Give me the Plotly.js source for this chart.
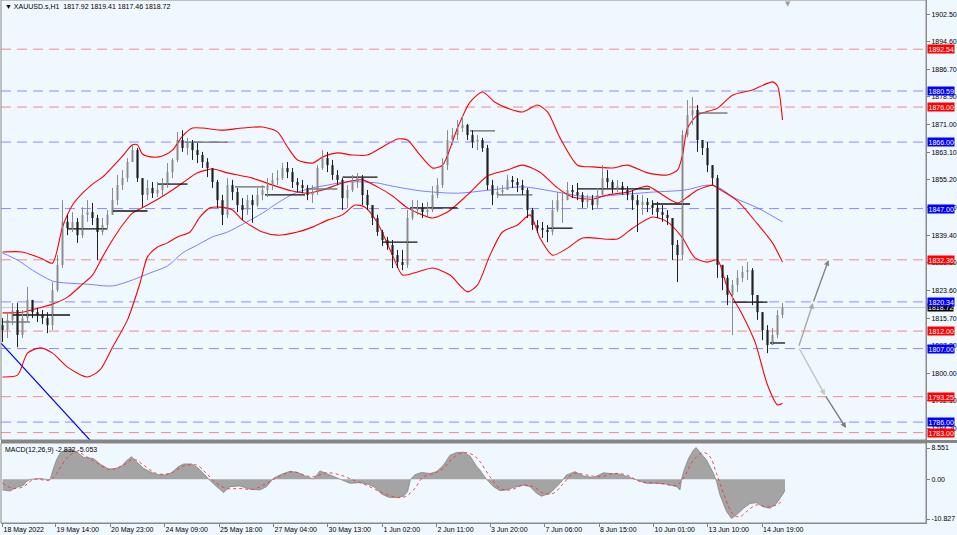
<!DOCTYPE html>
<html>
<head>
<meta charset="utf-8">
<script src="https://cdn.plot.ly/plotly-3.0.1.min.js"></script>
<style>
html,body{margin:0;padding:0;background:#f0f8ff;}
#chart{width:957px;height:535px;}
</style>
</head>
<body>
<div id="chart"></div>
<script>
// ---------------- DATA ----------------
const symbolTitle = "XAUUSD.s,H1";
const lastBarOHLC = ["1817.92", "1819.41", "1817.46", "1818.72"];
const macdTitle = "MACD(12,26,9) -2.832 -5.053";

const firstOpen = 1813.7;
const closes = [1812.3,1815.2,1818.0,1810.9,1815.7,1820.9,1817.4,1816.6,1815.7,1813.7,
 1823.7,1830.9,1843.2,1841.4,1843.2,1839.4,1845.2,1846.0,1844.3,1840.3,
 1842.3,1845.2,1849.4,1853.7,1855.7,1860.3,1863.7,1855.7,1850.9,1852.9,
 1851.4,1852.3,1853.7,1857.4,1860.9,1866.6,1864.3,1865.7,1863.7,1862.3,
 1860.3,1858.6,1854.6,1849.4,1845.2,1853.7,1851.7,1848.0,1846.6,1849.4,
 1848.0,1850.9,1852.3,1853.7,1855.2,1855.7,1858.6,1857.4,1854.6,1853.7,
 1852.9,1850.9,1851.7,1858.6,1861.4,1859.4,1856.6,1855.2,1850.0,1852.3,
 1854.6,1855.7,1850.9,1848.0,1844.3,1840.3,1838.0,1836.6,1833.7,1831.7,
 1830.9,1844.3,1846.6,1847.2,1846.0,1846.6,1850.9,1853.7,1859.4,1866.6,
 1868.0,1870.0,1870.9,1868.0,1866.0,1866.6,1864.3,1853.7,1850.9,1851.7,
 1852.3,1855.2,1854.6,1853.7,1852.3,1846.6,1842.3,1841.4,1840.9,1840.3,
 1846.6,1849.4,1849.4,1852.3,1851.7,1850.9,1848.9,1849.4,1848.0,1850.9,
 1855.7,1854.6,1852.9,1853.4,1852.3,1850.9,1849.4,1848.0,1848.9,1848.0,
 1847.2,1846.0,1845.2,1844.3,1836.6,1833.7,1868.0,1873.7,1875.2,1866.6,
 1864.3,1859.4,1855.7,1830.9,1827.2,1822.3,1825.2,1827.2,1828.9,1829.4,
 1822.3,1817.4,1812.3,1808.0,1810.9,1816.6,1818.7];
const highs = [1815.7,1817.4,1820.0,1820.0,1818.0,1824.6,1820.9,1818.6,1818.0,1817.4,
 1826.0,1833.7,1849.4,1845.2,1846.0,1844.3,1847.4,1849.4,1848.6,1845.2,
 1844.3,1846.6,1852.9,1856.6,1858.0,1861.4,1865.2,1864.3,1855.7,1855.2,
 1854.6,1854.6,1855.7,1860.0,1861.4,1868.9,1869.4,1867.2,1866.6,1865.7,
 1863.2,1861.4,1858.0,1855.2,1850.9,1855.7,1855.2,1852.9,1850.0,1850.9,
 1850.9,1852.9,1853.7,1855.7,1857.2,1858.0,1860.0,1860.3,1858.6,1855.7,
 1855.2,1853.7,1853.7,1859.4,1863.7,1863.2,1860.9,1858.0,1855.7,1853.7,
 1856.6,1857.2,1856.6,1852.3,1848.0,1845.2,1840.9,1838.9,1838.0,1835.2,
 1835.2,1846.6,1849.4,1849.4,1848.6,1848.9,1853.4,1855.7,1861.4,1869.4,
 1870.0,1872.3,1873.7,1871.2,1869.4,1868.0,1867.2,1865.2,1855.2,1853.4,
 1853.7,1856.6,1856.3,1855.7,1855.2,1852.9,1847.2,1843.7,1843.2,1842.3,
 1849.4,1851.7,1851.7,1854.6,1853.7,1854.3,1851.7,1850.9,1850.9,1852.9,
 1859.4,1858.0,1855.2,1855.2,1854.6,1853.4,1852.3,1850.9,1850.9,1850.0,
 1849.4,1848.9,1848.0,1846.6,1844.3,1838.0,1869.4,1878.0,1878.9,1876.6,
 1866.6,1866.0,1858.6,1856.6,1830.9,1828.0,1826.6,1829.4,1830.6,1831.7,
 1830.0,1822.3,1817.4,1813.7,1812.9,1818.0,1820.0];
const lows = [1808.9,1810.0,1813.7,1807.4,1810.0,1814.6,1815.7,1814.6,1814.0,1811.4,
 1812.3,1823.2,1830.0,1839.4,1840.3,1837.2,1838.6,1843.2,1842.3,1832.3,
 1839.4,1841.4,1845.2,1848.0,1852.3,1854.6,1860.3,1854.6,1847.4,1849.4,
 1850.0,1850.3,1850.6,1852.9,1855.7,1860.3,1863.2,1862.3,1860.9,1860.0,
 1858.6,1856.0,1852.9,1847.2,1842.3,1844.3,1849.4,1846.0,1843.7,1845.2,
 1842.9,1847.4,1849.4,1850.3,1852.3,1853.7,1855.2,1855.7,1852.9,1851.7,
 1851.4,1849.4,1848.6,1850.9,1858.0,1857.4,1855.2,1853.7,1846.6,1847.2,
 1851.7,1852.9,1848.0,1846.6,1842.3,1839.2,1836.3,1835.2,1830.0,1830.0,
 1829.4,1830.0,1843.7,1845.2,1844.3,1844.9,1846.0,1850.0,1852.9,1858.0,
 1865.2,1866.6,1868.9,1866.6,1864.3,1863.7,1863.2,1852.3,1848.0,1850.0,
 1850.6,1852.3,1852.9,1851.7,1850.9,1844.3,1840.9,1840.0,1838.6,1837.4,
 1839.4,1846.0,1842.9,1850.0,1850.0,1849.4,1847.2,1847.2,1846.6,1847.2,
 1850.6,1852.9,1851.4,1851.7,1850.9,1849.4,1846.6,1840.3,1845.2,1846.0,
 1845.2,1844.3,1843.2,1842.3,1832.3,1826.0,1832.3,1867.4,1870.9,1863.2,
 1862.3,1857.4,1853.7,1827.2,1823.7,1819.4,1810.9,1823.2,1826.0,1826.6,
 1819.4,1815.2,1809.4,1805.7,1808.0,1810.0,1815.7];

// Bollinger bands - x in bar index
const bbUpperX = [0,4,8,10,12,14,16,18,20,22,24,26,27,28,30,32,34,36,38,40,44,48,52,55,57,59,62,64,67,70,73,76,79,81,83,86,88,91,93.5,96,98.5,101,104,107,109,111.5,115,118,122,125,129,133,135,136,137,139,143,146,150,154,155,156];
const bbUpperY = [1834.6,1834.6,1832.6,1831.4,1841.7,1848.0,1851.4,1854.0,1856.0,1858.9,1862.0,1865.2,1865.2,1862.6,1861.7,1862.0,1863.7,1867.7,1870.0,1870.0,1869.4,1870.0,1870.3,1868.9,1864.6,1860.9,1860.0,1861.7,1862.9,1862.3,1862.3,1864.6,1866.9,1866.6,1863.2,1858.6,1859.4,1870.0,1877.4,1880.3,1877.4,1875.7,1874.6,1876.6,1874.6,1867.2,1859.4,1858.9,1858.6,1859.4,1857.2,1856.6,1858.0,1862.3,1870.0,1873.7,1875.7,1879.4,1880.9,1883.2,1882.0,1872.3];
const bbMidX = [0,4,8,10,13,16,18,20,22,24,26,29,33,36,39,42,45,50,54,58,61,64,68,72,75,78,81,84,86,89,93,97,101,104,107.5,111,114,118,121,125,129,132,135,137,139,142,143,147,151,154,156];
const bbMidY = [1817.2,1817.4,1818.9,1819.7,1821.7,1825.4,1828.0,1833.2,1838.0,1842.3,1845.7,1848.0,1851.4,1854.3,1857.2,1858.3,1857.2,1855.7,1853.7,1852.0,1851.4,1852.3,1854.3,1855.2,1853.2,1850.6,1847.2,1845.2,1844.3,1846.0,1850.9,1856.3,1858.0,1859.4,1857.4,1852.9,1850.3,1849.7,1850.9,1851.7,1853.4,1850.9,1848.6,1850.3,1852.3,1853.7,1852.9,1849.2,1842.6,1837.2,1831.7];
const bbLowX = [0,3,5,7.5,10,13,17,19.5,22,25,27.5,29,31,33,35,37.5,39.5,41.5,43.5,46,48,52,55,59,62,65,68,70.5,72.5,75,78,80,83,86,89.5,93,95,97.5,100,103,105.5,107.5,110,113,116,123,126,130,133,136,138.5,141,143,145,148,150.5,153,155,156];
const bbLowY = [1798.9,1799.4,1805.7,1807.2,1805.7,1801.7,1798.9,1800.9,1807.4,1815.2,1825.7,1833.2,1836.0,1837.2,1838.9,1840.3,1844.6,1847.2,1847.4,1846.6,1843.7,1840.3,1839.4,1840.3,1841.7,1843.7,1845.2,1848.0,1847.4,1842.9,1833.7,1828.0,1828.9,1830.0,1828.0,1823.2,1825.2,1833.7,1840.3,1842.3,1845.2,1838.6,1833.7,1835.7,1838.6,1838.3,1841.4,1844.6,1843.2,1838.6,1832.9,1831.7,1832.3,1824.3,1816.6,1808.9,1796.6,1790.9,1791.4];
// Moving average (blue)
const maX = [0,3,6,10,13,17,22,26,29.5,33,36,39,42,45,48.5,52,55,58.5,62,65,68.5,72,75,78,84,91,97.5,104,111,117,123,130,136.5,141,143,146.5,151,156];
const maY = [1834.3,1832.3,1829.4,1826.3,1825.7,1825.4,1824.9,1826.6,1828.6,1830.6,1834.3,1836.6,1838.9,1840.3,1842.9,1845.7,1848.6,1851.4,1852.9,1853.7,1854.6,1854.6,1854.3,1853.4,1852.0,1851.4,1852.3,1853.2,1851.7,1850.3,1850.9,1851.7,1852.3,1853.7,1853.2,1850.0,1847.2,1843.2];

// Support / resistance segments (bar index start/end, price)
const segStart = [2,13,22,31,52.5,68,76,81.5,109,115,130,146,153.5];
const segEnd   = [13.5,21,29,37,60.5,75,83,91,114,129.5,137.5,153,156.5];
const segPrice = [1816.6,1841.2,1846.3,1854.0,1850.9,1856.0,1837.4,1847.2,1841.4,1852.6,1848.3,1820.3,1808.6];
const segGStart = [0,36.5,46.5,61,93.5,99,139];
const segGEnd   = [5.5,45,52.5,67,98.5,106,145];
const segGPrice = [1814.6,1866.0,1853.2,1852.6,1869.2,1850.9,1874.3];

// Trend line (blue)
const trendX = [-0.5, 23.5];
const trendY = [1808.9, 1771.5];

// Projection arrows: start, middle, end
const arrowUpX = [159.2, 162.1, 165.2];
const arrowUpY = [1807.4, 1820.0, 1832.3];
const arrowDnX = [159.2, 164.5, 168.7];
const arrowDnY = [1807.4, 1793.7, 1784.3];

// Horizontal levels
const levelPrices = [1892.54, 1880.59, 1876.00, 1866.00, 1847.00, 1832.36, 1820.34, 1812.00, 1807.00, 1793.25, 1786.00, 1783.00];
const levelKinds  = ['r','b','r','b','b','r','b','r','b','r','b','r'];
const bidPrice = 1818.72;

// Price axis ticks
const priceTicks = [1902.50,1894.60,1886.70,1878.90,1871.00,1863.10,1855.20,1847.40,1839.40,1831.50,1823.60,1815.70,1807.80,1800.00,1792.10,1784.20];
// MACD
const macdTicks = [8.551, 0, -10.827];
const macdTickText = ["8.551", "0.00", "-10.827"];
const macdX = [0,1.5,2.8,4.2,4.8,5.5,7.5,9.5,10.2,10.8,11.5,12.5,13.8,14.8,16.2,18.2,19.5,21.2,22.5,23.8,24.8,25.8,26.8,28.2,29.5,30.8,32.5,33.8,35.2,36.2,37.8,39.2,40.5,41.4,42.5,43.5,44.2,45.5,47.5,49.5,51.5,52.8,54.2,55.8,57.5,59.2,60.8,62.2,63.5,64.8,66.5,68.2,69.5,71.5,73.2,74.5,75.8,77.2,78.8,80.2,81.0,81.6,82.5,83.8,85.5,86.8,88.2,89.5,90.8,92.2,93.5,94.8,95.5,96.8,98.2,99.5,100.8,102.2,104.2,105.5,106.8,107.8,109.5,111.5,112.8,114.5,116.2,118.2,120.2,121.5,123.5,125.5,127.5,128.8,130.8,132.8,134.8,135.5,135.8,136.3,137.2,138.2,138.7,139.5,140.8,142.2,142.8,143.5,144.8,145.8,146.8,148.2,149.5,150.8,152.2,153.5,154.8,156.2,156.5];
const macdMain = [-2.9,-3.2,-2.2,-1.6,-0.6,0,0.2,-0.1,3.0,5.3,7.1,8.0,8.2,7.5,6.0,5.7,4.2,2.8,2.9,3.6,5.1,6.2,4.8,3.0,2.1,1.3,1.2,1.8,3.5,4.2,4.2,3.0,1.2,-0.2,-1.6,-2.9,-3.6,-2.0,-1.8,-2.7,-2.9,-2.0,0.3,1.4,2.2,1.8,0.7,0.1,2.3,1.6,0.7,-0.2,-1.1,-0.9,-1.4,-2.2,-4.0,-4.9,-5.0,-4.6,-3.4,0,1.3,1.9,1.6,2.1,3.9,6.6,7.3,7.4,6.4,3.6,2.5,0,-2.0,-3.1,-2.9,-2.2,-1.6,-2.0,-3.8,-4.6,-3.8,-1.1,1.2,2.1,0.9,0.5,1.8,1.6,1.4,0.5,-0.6,-1.1,-1.1,-1.3,-2.0,-2.9,0,2.5,5.7,8.0,8.7,7.5,5.3,1.6,-0.6,-4.3,-8.8,-10.7,-9.7,-7.9,-6.6,-6.4,-7.5,-7.9,-6.6,-3.8,-2.9];
const signalX = [0,2.2,4.2,6.2,9.5,10.8,12.8,14.8,16.8,18.8,21.5,24.2,26.2,28.2,30.8,33.5,36.2,38.8,40.8,42.8,44.8,47.5,50.2,52.8,55.5,58.2,60.2,62.2,64.8,67.5,70.2,72.8,75.5,78.2,80.2,82.2,84.2,86.2,88.2,90.2,92.2,94.2,95.5,97.5,99.5,101.5,104.2,106.2,108.2,110.2,112.2,114.2,116.8,119.5,122.2,124.8,127.5,131.5,134.8,136.2,138.2,140.2,141.5,142.8,144.2,146.2,147.5,148.8,150.8,152.8,154.8,156.2];
const signalY = [-1.1,-2.5,-2.0,0,-0.2,1.6,5.7,7.5,6.2,4.5,2.7,3.9,5.5,3.9,1.6,1.6,3.6,3.9,1.6,-1.1,-2.5,-2.5,-2.7,-1.1,0.9,2.1,1.2,0.7,1.8,1.2,-0.2,-1.6,-3.4,-4.7,-4.9,-2.9,0.7,1.6,3.0,6.0,7.3,6.6,4.8,0.7,-2.5,-2.9,-1.6,-2.0,-3.8,-3.8,-1.1,1.6,1.2,0.7,1.6,1.2,-0.6,-1.1,-1.6,0.3,5.3,7.3,6.2,1.6,-3.8,-9.7,-10.2,-8.8,-7.0,-7.5,-7.0,-5.6];

// Time axis labels (bar index of each label)
const timeTickIdx = [0.0,10.6,21.5,32.4,43.3,54.2,65.0,76.0,86.8,97.5,108.4,119.3,130.2,141.0,151.9];
const timeTickText = ["18 May 2022","19 May 14:00","20 May 23:00","24 May 09:00","25 May 18:00","27 May 04:00","30 May 13:00","1 Jun 02:00","2 Jun 11:00","3 Jun 20:00","7 Jun 06:00","8 Jun 15:00","10 Jun 01:00","13 Jun 10:00","14 Jun 19:00"];

// ---------------- BUILD ----------------
const idx = closes.map((_, i) => i);
const opens = [firstOpen].concat(closes.slice(0, -1));
const hi = highs.map((h, i) => Math.max(h, opens[i], closes[i]));
const lo = lows.map((l, i) => Math.min(l, opens[i], closes[i]));

function segTrace(s, e, p, color) {
  const x = [], y = [];
  s.forEach((v, i) => { x.push(v, e[i], null); y.push(p[i], p[i], null); });
  return {type:'scatter', mode:'lines', x, y, xaxis:'x', yaxis:'y', line:{color, width:1.3}, hoverinfo:'skip'};
}
// candles drawn as wick lines + body bars, split by direction
function candleTraces(up, bodyColor, wickColor) {
  const wx = [], wy = [], bx = [], bBase = [], bH = [];
  idx.forEach(i => {
    const isUp = closes[i] >= opens[i];
    if (isUp !== up) return;
    wx.push(i, i, null); wy.push(lo[i], hi[i], null);
    bx.push(i);
    bBase.push(Math.min(opens[i], closes[i]));
    bH.push(Math.max(Math.abs(closes[i] - opens[i]), 0.25));
  });
  return [
    {type:'scatter', mode:'lines', x: wx, y: wy, line:{color: wickColor, width:1}, hoverinfo:'skip', xaxis:'x', yaxis:'y'},
    {type:'bar', x: bx, y: bH, base: bBase, width:0.42, marker:{color: bodyColor, line:{width:0}}, hoverinfo:'skip', xaxis:'x', yaxis:'y'}
  ];
}

const FONT = 'Liberation Sans, Arial, sans-serif';
const traces = [
  {type:'scatter', mode:'lines', x: trendX, y: trendY, line:{color:'#0000ee', width:1.2}, hoverinfo:'skip'},
  {type:'scatter', mode:'lines', x: maX, y: maY, line:{color:'#7070ff', width:0.9, shape:'spline', smoothing:0.8}, hoverinfo:'skip'},
  {type:'scatter', mode:'lines', x: bbUpperX, y: bbUpperY, line:{color:'#ff0000', width:1.1, shape:'spline', smoothing:0.7}, hoverinfo:'skip'},
  {type:'scatter', mode:'lines', x: bbMidX, y: bbMidY, line:{color:'#ff0000', width:1.1, shape:'spline', smoothing:0.7}, hoverinfo:'skip'},
  {type:'scatter', mode:'lines', x: bbLowX, y: bbLowY, line:{color:'#ff0000', width:1.1, shape:'spline', smoothing:0.7}, hoverinfo:'skip'},
  segTrace(segGStart, segGEnd, segGPrice, '#6a6a6a'),
  segTrace(segStart, segEnd, segPrice, '#111111'),
  ...candleTraces(true, '#9a9a9a', '#8a8a8a'),
  ...candleTraces(false, '#101010', '#202020'),
  {type:'scatter', mode:'lines', x: macdX, y: macdMain, xaxis:'x', yaxis:'y2', fill:'tozeroy',
   fillcolor:'#a4a4a4', line:{color:'#7c7c7c', width:0.7}, hoverinfo:'skip'},
  {type:'scatter', mode:'lines', x: signalX, y: signalY, xaxis:'x', yaxis:'y2',
   line:{color:'#ff3030', width:0.9, dash:'dot', shape:'spline'}, hoverinfo:'skip'}
];

const H = 523; // plot height in px (535 - bottom margin)
const mainBottom = (H - 440) / H;
const macdTop = (H - 443) / H;

const shapes = [];
levelPrices.forEach((p, i) => {
  shapes.push({type:'line', xref:'paper', x0:0, x1:1, yref:'y', y0:p, y1:p,
    line:{color: levelKinds[i] === 'r' ? '#f28a8a' : '#8a8aff', width:1, dash:'10px,6px'}, layer:'below'});
});
shapes.push({type:'line', xref:'paper', x0:0, x1:1, yref:'y', y0:bidPrice, y1:bidPrice,
  line:{color:'#c4c8cc', width:1}, layer:'below'});
// panel frames
shapes.push({type:'rect', xref:'paper', yref:'paper', x0:0, x1:1, y0:mainBottom, y1:1, line:{color:'#8a8a8a', width:1}});
shapes.push({type:'rect', xref:'paper', yref:'paper', x0:0, x1:1, y0:0, y1:macdTop, line:{color:'#8a8a8a', width:1}});
shapes.push({type:'rect', xref:'paper', yref:'paper', x0:0, x1:956/925, y0:macdTop, y1:mainBottom, fillcolor:'#868686', line:{width:0}});

const annotations = [];
annotations.push({xref:'paper', yref:'paper', x:0, y:1, xanchor:'left', yanchor:'top', xshift:2, yshift:-1,
  text:'\u25BC ' + symbolTitle + '\u00a0\u00a0' + lastBarOHLC.join(' '), showarrow:false,
  font:{family:FONT, size:7, color:'#000'}});
annotations.push({xref:'paper', yref:'paper', x:0, y:macdTop, xanchor:'left', yanchor:'top', xshift:2, yshift:-1,
  text: macdTitle, showarrow:false, font:{family:FONT, size:7, color:'#000'}});
// bid label first, then level labels on top
annotations.push({xref:'paper', yref:'y', x:1, y:bidPrice, xanchor:'left', yanchor:'middle', xshift:1,
  text: bidPrice.toFixed(2), showarrow:false, bgcolor:'#000', borderpad:0,
  font:{family:FONT, size:7, color:'#fff'}});
levelPrices.forEach((p, i) => {
  annotations.push({xref:'paper', yref:'y', x:1, y:p, xanchor:'left', yanchor:'middle', xshift:1,
    text: p.toFixed(2), showarrow:false, bgcolor: levelKinds[i] === 'r' ? '#ff0000' : '#0000ff', borderpad:0.5,
    font:{family:FONT, size:7, color:'#fff'}});
});
function addArrow(xs, ys, c1, c2) {
  annotations.push({xref:'x', yref:'y', axref:'x', ayref:'y', x: xs[1], y: ys[1], ax: xs[0], ay: ys[0],
    showarrow:true, arrowhead:2, arrowsize:0.8, arrowwidth:1.4, arrowcolor:c1, text:''});
  annotations.push({xref:'x', yref:'y', axref:'x', ayref:'y', x: xs[2], y: ys[2], ax: xs[1], ay: ys[1],
    showarrow:true, arrowhead:2, arrowsize:0.8, arrowwidth:1.4, arrowcolor:c2, text:''});
}
addArrow(arrowUpX, arrowUpY, '#a8a8a8', '#858585');
addArrow(arrowDnX, arrowDnY, '#c4c4c4', '#7c7c7c');
// chart shift marker
annotations.push({xref:'x', yref:'paper', x: idx[idx.length - 1] + 1, y:1, yanchor:'top', yshift:2,
  text:'\u25BC', showarrow:false, font:{family:'DejaVu Sans', size:7, color:'#a0a0a0'}});

const tickFont = {family:FONT, size:7, color:'#000'};
const layout = {
  width:957, height:535,
  margin:{l:1, r:31, t:0, b:12},
  paper_bgcolor:'#f0f8ff', plot_bgcolor:'#f0f8ff',
  showlegend:false,
  barmode:'overlay',
  xaxis:{domain:[0,1], range:[-0.3,184.7], anchor:'y2', tickmode:'array', tickvals: timeTickIdx, ticktext: timeTickText,
    ticks:'outside', ticklen:3, tickcolor:'#808080', ticklabelposition:'outside right', tickfont:tickFont,
    showline:true, linecolor:'#8a8a8a', showgrid:false, zeroline:false, fixedrange:true},
  yaxis:{domain:[mainBottom,1], range:[1780.88,1906.59], side:'right', anchor:'x', tickmode:'array',
    tickvals: priceTicks, ticktext: priceTicks.map(v => v.toFixed(2)), ticks:'outside', ticklen:3, tickcolor:'#808080',
    tickfont:tickFont, showline:true, linecolor:'#8a8a8a', showgrid:false, zeroline:false, fixedrange:true},
  yaxis2:{domain:[0,macdTop], range:[-11.92,9.92], side:'right', anchor:'x', tickmode:'array',
    tickvals: macdTicks, ticktext: macdTickText, ticks:'outside', ticklen:3, tickcolor:'#808080',
    tickfont:tickFont, showline:true, linecolor:'#8a8a8a', showgrid:false, zeroline:false, fixedrange:true},
  shapes, annotations
};

Plotly.newPlot('chart', traces, layout, {displayModeBar:false, staticPlot:true});
</script>
</body>
</html>
